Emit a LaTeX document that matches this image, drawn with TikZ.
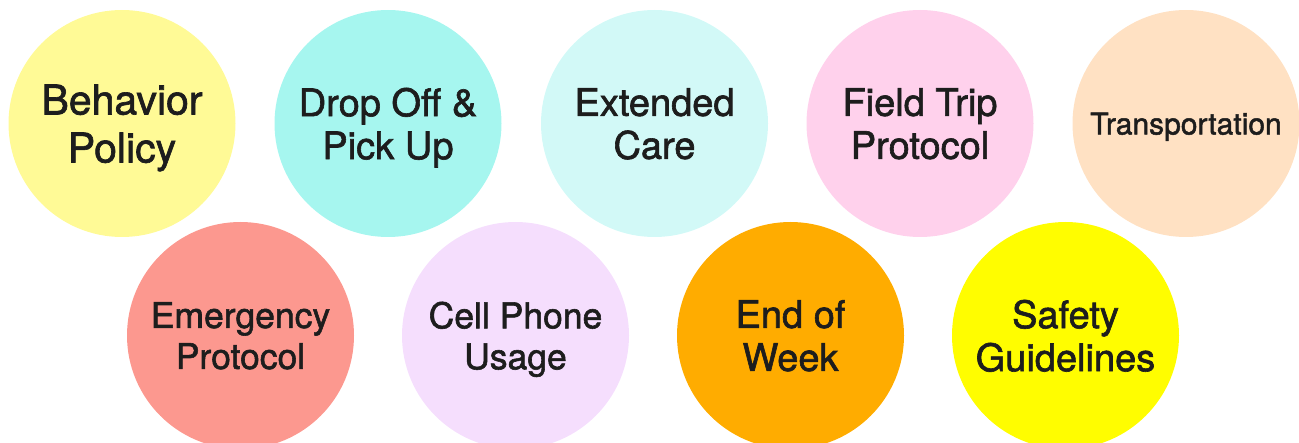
\documentclass[tikz,border=0pt]{standalone}
\usepackage{fontspec}
\setmainfont{TeX Gyre Heros}[FakeBold=1.6]
\definecolor{txt}{RGB}{29,29,29}
\definecolor{cBeh}{RGB}{255,250,150}
\definecolor{cDrop}{RGB}{166,246,239}
\definecolor{cExt}{RGB}{210,249,247}
\definecolor{cField}{RGB}{255,209,236}
\definecolor{cTrans}{RGB}{255,225,195}
\definecolor{cEmer}{RGB}{252,152,143}
\definecolor{cCell}{RGB}{245,222,253}
\definecolor{cEnd}{RGB}{255,172,0}
\definecolor{cSafe}{RGB}{255,253,0}
\begin{document}
\begin{tikzpicture}[x=1pt,y=-1pt,
  bubble/.style={circle, fill=#1, draw=none, minimum size=227pt, inner sep=0pt,
    align=center, text=txt, text depth=0pt},
  big/.style={font=\fontsize{41}{48}\selectfont},
  med/.style={font=\fontsize{38}{43}\selectfont},
  sml/.style={font=\fontsize{35.5}{41}\selectfont},
  tiny/.style={font=\fontsize{30}{36}\selectfont}]
\useasboundingbox (0,0) rectangle (1299,443);
\clip (0,0) rectangle (1299,443);
% top row
\node[bubble=cBeh, big]   (beh)   at (122,123.5)  {Behavior\\Policy};
\node[bubble=cDrop, med]  (drop)  at (388,123.5)  {Drop Off \&\\Pick Up};
\node[bubble=cExt, med]   (ext)   at (654.5,123.5){Extended\\Care};
\node[bubble=cField, med] (field) at (920,123.5)  {Field Trip\\Protocol};
\node[bubble=cTrans, tiny](trans) at (1186,123.5) {Transportation};
% bottom row
\node[bubble=cEmer, sml]  (emer)  at (240.5,335.5) {Emergency\\Protocol};
\node[bubble=cCell, sml]  (cell)  at (515.5,335.5) {Cell Phone\\Usage};
\node[bubble=cEnd, med]   (endw)  at (790.5,335.5) {End of\\Week};
\node[bubble=cSafe, med]  (safe)  at (1065.5,335.5){Safety\\Guidelines};
\end{tikzpicture}
\end{document}
